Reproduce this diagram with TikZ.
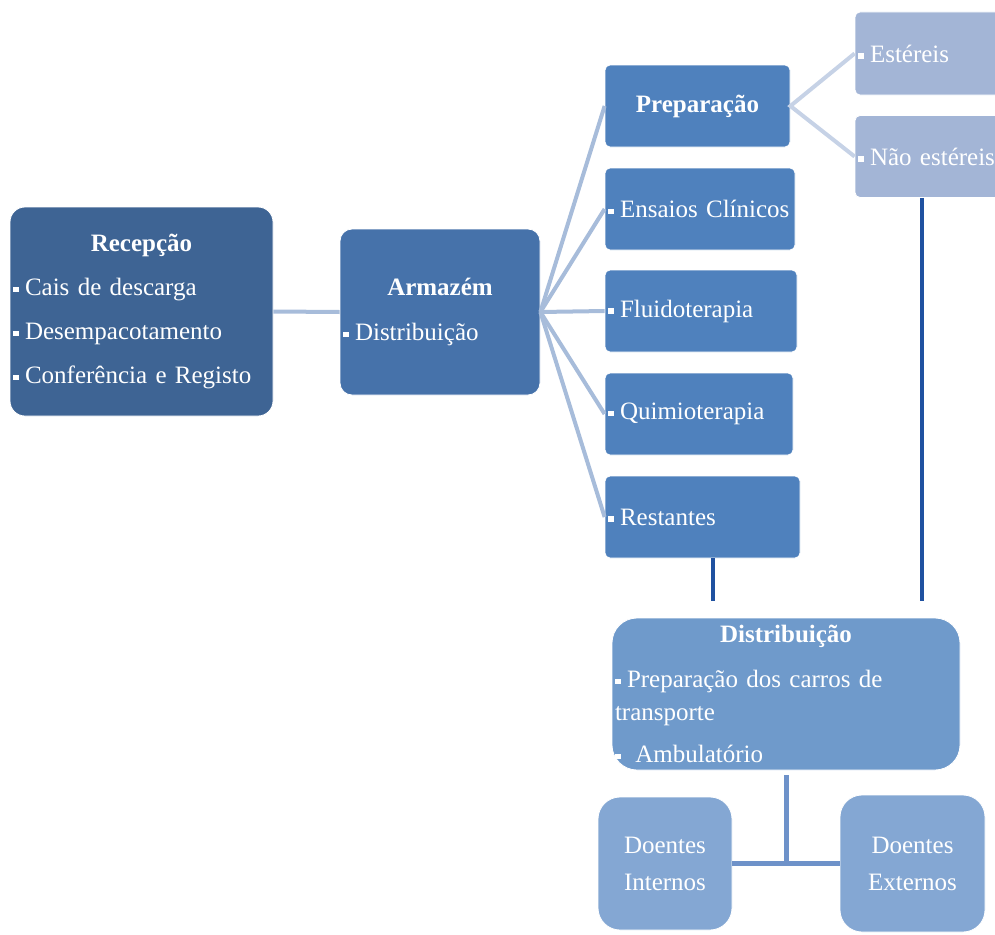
\documentclass[tikz,border=0pt]{standalone}
\usepackage{fontspec}
\setmainfont{Liberation Serif}
\usetikzlibrary{calc}

\definecolor{recblue}{HTML}{3E6494}
\definecolor{armblue}{HTML}{4672AA}
\definecolor{midblue}{HTML}{4F81BD}
\definecolor{paleblue}{HTML}{A3B5D6}
\definecolor{disblue}{HTML}{6F9ACB}
\definecolor{doeblue}{HTML}{84A7D3}
\definecolor{linklight}{HTML}{A7BCDA}
\definecolor{linkpale}{HTML}{C6D2E6}
\definecolor{navyline}{HTML}{1F51A0}
\definecolor{linkmid}{HTML}{6E92C9}

\newcommand{\bul}{\rule[0.14em]{0.22em}{0.22em}\hspace{0.26em}}
\newcommand{\ttl}[1]{\makebox[\hsize]{\bfseries #1}}

\begin{document}
\begin{tikzpicture}[x=1pt,y=-1pt,
        box/.style={rectangle,draw=white,line width=0.8pt,text=white,inner xsep=3pt,
          align=left,font=\fontsize{25}{33}\selectfont},
        link/.style={line width=4pt,linklight},
        plink/.style={line width=4pt,linkpale},
        nlink/.style={line width=4pt,navyline},
        mlink/.style={line width=5pt,linkmid}]
        \clip (0,0) rectangle (995,934);
        % first two stages
        \node[box,fill=recblue,rounded corners=15pt,text width=257,minimum height=209]  (rec) at (141.5,311.5)
          {\ttl{Recepção}\\[11pt]\bul Cais de descarga\\[11pt]\bul Desempacotamento\\[11pt]\bul Conferência e Registo};
        \node[box,fill=armblue,rounded corners=12pt,text width=194,minimum height=166]  (arm) at (440,312)
          {\ttl{Armazém}\\[12pt]\bul Distribuição};
        % preparation areas
        \node[box,fill=midblue,rounded corners=5pt,text width=179,minimum height=82]  (prep) at (697.5,106) {\ttl{Preparação}};
        \node[box,fill=midblue,rounded corners=5pt,text width=184,minimum height=82]  (ens) at (700,209) {\mbox{\bul Ensaios Clínicos}};
        \node[box,fill=midblue,rounded corners=5pt,text width=186,minimum height=82]  (flu) at (701,311) {\bul Fluidoterapia};
        \node[box,fill=midblue,rounded corners=5pt,text width=182,minimum height=82]  (qui) at (699,414) {\bul Quimioterapia};
        \node[box,fill=midblue,rounded corners=5pt,text width=189,minimum height=82]  (rest) at (702.5,517) {\bul Restantes};
        \node[box,fill=paleblue,rounded corners=5pt,text width=144,minimum height=83]  (est) at (930,53.5) {\bul Estéreis};
        \node[box,fill=paleblue,rounded corners=5pt,text width=144,minimum height=82]  (nest) at (930,156.5) {\mbox{\bul Não estéreis}};
        % distribution
        \node[box,fill=disblue,rounded corners=25pt,text width=342,minimum height=152]  (dist) at (786,694)
          {\ttl{Distribuição}\\[12pt]\bul Preparação dos carros de\\transporte\\[9pt]\bul\ Ambulatório};
        \node[box,fill=doeblue,rounded corners=22pt,align=center,text width=128,minimum height=133,
          font=\fontsize{25}{37}\selectfont]  (intl) at (665,863.5) {Doentes\\Internos};
        \node[box,fill=doeblue,rounded corners=22pt,align=center,text width=139,minimum height=137,
          font=\fontsize{25}{37}\selectfont]  (extl) at (912.5,863.5) {Doentes\\Externos};
        \coordinate (r1) at (713,601);
        \coordinate (n1) at (922,601);
        \path[link]
          (rec.east) edge (arm.west)
          (arm.east) edge (prep.west)
          (arm.east) edge (ens.west)
          (arm.east) edge (flu.west)
          (arm.east) edge (qui.west)
          (arm.east) edge (rest.west)
          ;
        \draw[plink] (est.west) -- (prep.east) -- (nest.west);
        \draw[nlink] (rest.south -| r1) -- (r1);
        \draw[nlink] (nest.south -| n1) -- (n1);
        \draw[mlink] ([yshift=-5pt]dist.south) -- (dist.south |- intl.east);
        \draw[mlink] (intl.east) -- (extl.west);
      \end{tikzpicture}
\end{document}
